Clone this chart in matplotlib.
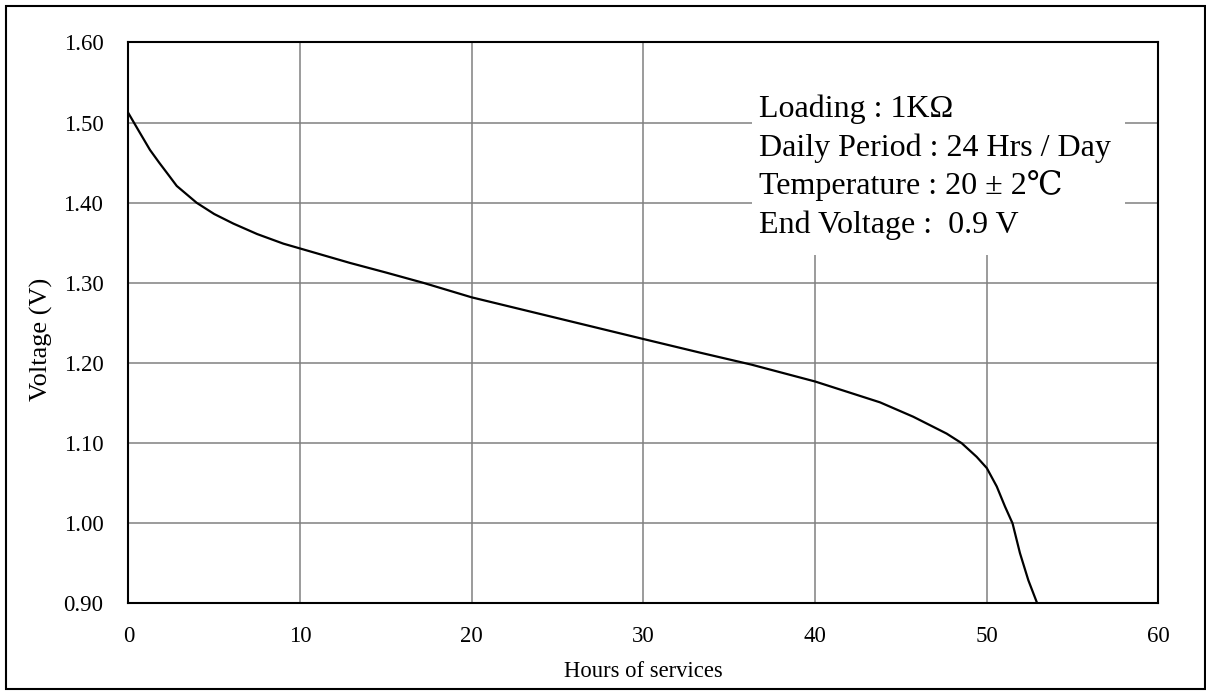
# Discharge curve: voltage vs hours of service, 1 kOhm load.

import matplotlib
matplotlib.use('Agg')
import matplotlib.pyplot as plt
from matplotlib.patches import Rectangle

# Data
hours = [0, 0.6, 1.26, 1.8, 2.33, 2.82, 3.98, 5.0, 6.12, 7.5, 9.03, 10, 12.9,
         15.0, 17.2, 20, 25, 30, 33.3, 36.3, 40, 43.78, 45.72, 47.66, 48.54,
         49.41, 50, 50.58, 51.06, 51.5, 51.93, 52.42, 52.94]
volts = [1.512, 1.490, 1.466, 1.450, 1.435, 1.421, 1.400, 1.386, 1.374,
         1.361, 1.349, 1.343, 1.325, 1.313, 1.300, 1.282, 1.256, 1.230,
         1.213, 1.198, 1.177, 1.151, 1.133, 1.112, 1.100, 1.083, 1.069,
         1.046, 1.021, 1.000, 0.963, 0.929, 0.900]

x_ticks = [0, 10, 20, 30, 40, 50, 60]
y_ticks = [0.90, 1.00, 1.10, 1.20, 1.30, 1.40, 1.50, 1.60]

info_lines = ['Loading : 1KΩ',
              'Daily Period : 24 Hrs / Day',
              'Temperature : 20 ± 2℃',
              'End Voltage :  0.9 V']

plt.rcParams['font.family'] = ['Liberation Serif', 'DejaVu Serif']

fig = plt.figure(figsize=(12.06, 6.92), dpi=100)
ax = fig.add_axes([0.1064, 0.1279, 0.8542, 0.8107])

ax.plot(hours, volts, color='black', linewidth=1.6, zorder=4)

ax.set_xlim(0, 60)
ax.set_ylim(0.9, 1.6)
ax.set_xticks(x_ticks)
ax.set_yticks(y_ticks)
ax.set_yticklabels([f'{v:.2f}' for v in y_ticks])
ax.tick_params(axis='both', length=0, labelsize=16.5)
ax.tick_params(axis='y', pad=18)
ax.tick_params(axis='x', pad=16)
ax.grid(True, color='#808080', linewidth=1.1)
ax.set_axisbelow(True)
for spine in ax.spines.values():
    spine.set_linewidth(1.5)
    spine.set_zorder(5)

ax.set_xlabel('Hours of services', fontsize=16.3, labelpad=10)
ax.set_ylabel('Voltage (V)', fontsize=19)
ax.yaxis.set_label_coords(-0.073, 0.47)

# white box behind the test conditions
ax.add_patch(Rectangle((0.6054, 0.621), 0.362, 0.379, transform=ax.transAxes,
                       facecolor='white', edgecolor='none', zorder=2))
for i, line in enumerate(info_lines):
    ax.text(0.612, 0.867 - i * 0.0686, line, transform=ax.transAxes,
            fontsize=23, va='baseline', ha='left', zorder=3)

# outer frame around the whole figure
fig.patches.append(Rectangle((6 / 1206, 3 / 692), 1199 / 1206, 683 / 692,
                             transform=fig.transFigure, fill=False,
                             edgecolor='black', linewidth=1.5))

fig.savefig('out.png', dpi=100)
